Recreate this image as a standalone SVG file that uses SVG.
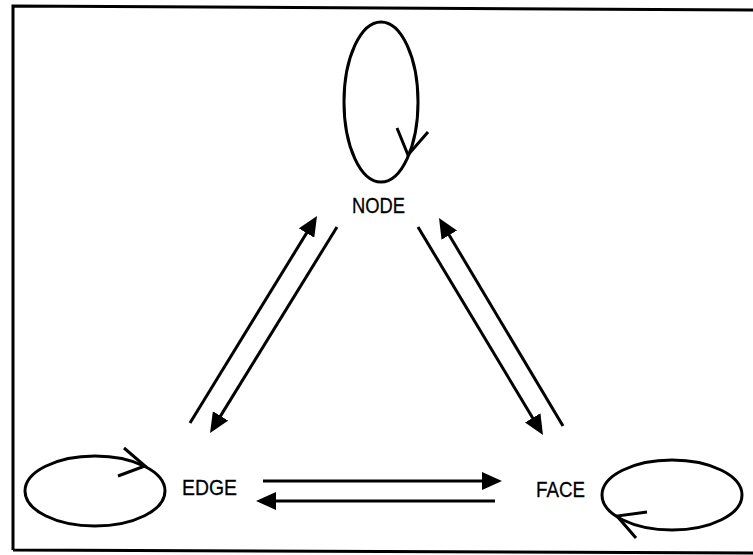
<svg xmlns="http://www.w3.org/2000/svg" width="753" height="555" viewBox="0 0 753 555">
<defs>
<style>
.frame{fill:none;stroke:#000;stroke-width:3}
.loop{fill:none;stroke:#000;stroke-width:3}
.chev{fill:none;stroke:#000;stroke-width:3;stroke-linecap:butt;stroke-linejoin:miter}
.conn{fill:none;stroke:#000;stroke-width:3}
.lbl{font-family:"Liberation Sans",Arial,sans-serif;font-size:22px;fill:#000;stroke:#000;stroke-width:0.3}
</style>
<marker id="ah" viewBox="0 0 20 18" refX="14" refY="9" markerWidth="20" markerHeight="18" markerUnits="userSpaceOnUse" orient="auto">
<path d="M0,0 L20,9 L0,18 Z" fill="#000"/>
</marker>
</defs>
<rect x="0" y="0" width="753" height="555" fill="#fff"/>
<path class="frame" d="M13,550 L13,6 L753,10 M13,550 L753,553"/>
<g id="node">
<ellipse class="loop" cx="381" cy="102" rx="37" ry="80"/>
<polyline class="chev" points="397,128 408,155 428,132"/>
<text class="lbl" x="352" y="213" textLength="53" lengthAdjust="spacingAndGlyphs">NODE</text>
</g>
<g id="edge">
<ellipse class="loop" cx="95" cy="491" rx="70" ry="35"/>
<polyline class="chev" points="124,448 145,466 118,476"/>
<text class="lbl" x="182" y="495" textLength="55" lengthAdjust="spacingAndGlyphs">EDGE</text>
</g>
<g id="face">
<ellipse class="loop" cx="672" cy="495" rx="70" ry="35"/>
<polyline class="chev" points="647,512 617,516 636,538"/>
<text class="lbl" x="536" y="497" textLength="49" lengthAdjust="spacingAndGlyphs">FACE</text>
</g>
<g id="connectors">
<line class="conn" x1="190" y1="423" x2="313.9" y2="221.1" marker-end="url(#ah)"/>
<line class="conn" x1="337" y1="227" x2="213.2" y2="427.9" marker-end="url(#ah)"/>
<line class="conn" x1="418" y1="227" x2="539.9" y2="429.9" marker-end="url(#ah)"/>
<line class="conn" x1="563" y1="426" x2="442.1" y2="223.2" marker-end="url(#ah)"/>
<line class="conn" x1="263" y1="481" x2="496" y2="481" marker-end="url(#ah)"/>
<line class="conn" x1="495" y1="501" x2="262" y2="501" marker-end="url(#ah)"/>
</g>
</svg>
